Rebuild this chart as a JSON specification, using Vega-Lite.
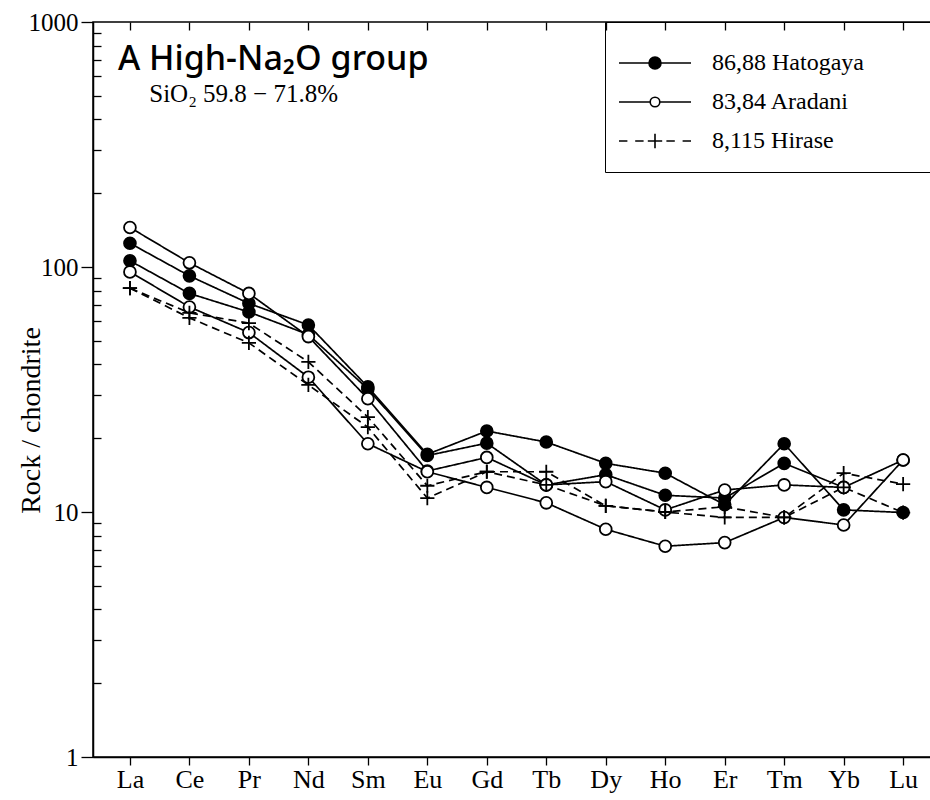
{
  "$schema": "https://vega.github.io/schema/vega-lite/v6.json",
  "width": 838,
  "height": 735,
  "autosize": {"type": "none"},
  "padding": {"left": 93, "top": 22, "right": 0, "bottom": 43},
  "background": "white",
  "config": {
    "view": {"stroke": "black", "strokeWidth": 1.5},
    "axis": {"grid": false, "domainColor": "black", "tickColor": "black", "labelColor": "black", "titleColor": "black", "tickWidth": 1.3, "domainWidth": 1.5}
  },
  "title": {
    "text": "A High-Na₂O group",
    "subtitle": "\u200b\u00a0\u00a0\u00a0\u00a0\u00a0SiO₂ 59.8 − 71.8%",
    "anchor": "start",
    "frame": "group",
    "orient": "top",
    "font": "Noto Sans",
    "fontSize": 34,
    "fontWeight": 500,
    "color": "black",
    "subtitleFont": "Liberation Serif",
    "subtitleFontSize": 25,
    "subtitleColor": "black",
    "subtitlePadding": 5,
    "dx": 25,
    "dy": 101
  },
  "data": {
    "values": [
      {"s": "86", "g": "86,88 Hatogaya", "el": "La", "v": 125},
      {"s": "86", "g": "86,88 Hatogaya", "el": "Ce", "v": 92},
      {"s": "86", "g": "86,88 Hatogaya", "el": "Pr", "v": 71},
      {"s": "86", "g": "86,88 Hatogaya", "el": "Nd", "v": 58},
      {"s": "86", "g": "86,88 Hatogaya", "el": "Sm", "v": 32.4},
      {"s": "86", "g": "86,88 Hatogaya", "el": "Eu", "v": 17.2},
      {"s": "86", "g": "86,88 Hatogaya", "el": "Gd", "v": 21.4},
      {"s": "86", "g": "86,88 Hatogaya", "el": "Tb", "v": 19.3},
      {"s": "86", "g": "86,88 Hatogaya", "el": "Dy", "v": 15.8},
      {"s": "86", "g": "86,88 Hatogaya", "el": "Ho", "v": 14.4},
      {"s": "86", "g": "86,88 Hatogaya", "el": "Er", "v": 10.7},
      {"s": "86", "g": "86,88 Hatogaya", "el": "Tm", "v": 19.0},
      {"s": "86", "g": "86,88 Hatogaya", "el": "Yb", "v": 10.2},
      {"s": "86", "g": "86,88 Hatogaya", "el": "Lu", "v": 9.95},
      {"s": "88", "g": "86,88 Hatogaya", "el": "La", "v": 106},
      {"s": "88", "g": "86,88 Hatogaya", "el": "Ce", "v": 78},
      {"s": "88", "g": "86,88 Hatogaya", "el": "Pr", "v": 65.5},
      {"s": "88", "g": "86,88 Hatogaya", "el": "Nd", "v": 53},
      {"s": "88", "g": "86,88 Hatogaya", "el": "Sm", "v": 31.8},
      {"s": "88", "g": "86,88 Hatogaya", "el": "Eu", "v": 17.0},
      {"s": "88", "g": "86,88 Hatogaya", "el": "Gd", "v": 19.1},
      {"s": "88", "g": "86,88 Hatogaya", "el": "Tb", "v": 12.9},
      {"s": "88", "g": "86,88 Hatogaya", "el": "Dy", "v": 14.2},
      {"s": "88", "g": "86,88 Hatogaya", "el": "Ho", "v": 11.7},
      {"s": "88", "g": "86,88 Hatogaya", "el": "Er", "v": 11.4},
      {"s": "88", "g": "86,88 Hatogaya", "el": "Tm", "v": 15.8},
      {"s": "88", "g": "86,88 Hatogaya", "el": "Yb", "v": 12.6},
      {"s": "83", "g": "83,84 Aradani", "el": "La", "v": 145},
      {"s": "83", "g": "83,84 Aradani", "el": "Ce", "v": 104},
      {"s": "83", "g": "83,84 Aradani", "el": "Pr", "v": 78},
      {"s": "83", "g": "83,84 Aradani", "el": "Nd", "v": 52},
      {"s": "83", "g": "83,84 Aradani", "el": "Sm", "v": 29},
      {"s": "83", "g": "83,84 Aradani", "el": "Eu", "v": 14.7},
      {"s": "83", "g": "83,84 Aradani", "el": "Gd", "v": 16.7},
      {"s": "83", "g": "83,84 Aradani", "el": "Tb", "v": 12.9},
      {"s": "83", "g": "83,84 Aradani", "el": "Dy", "v": 13.3},
      {"s": "83", "g": "83,84 Aradani", "el": "Ho", "v": 10.2},
      {"s": "83", "g": "83,84 Aradani", "el": "Er", "v": 12.3},
      {"s": "83", "g": "83,84 Aradani", "el": "Tm", "v": 12.9},
      {"s": "83", "g": "83,84 Aradani", "el": "Yb", "v": 12.6},
      {"s": "83", "g": "83,84 Aradani", "el": "Lu", "v": 16.3},
      {"s": "84", "g": "83,84 Aradani", "el": "La", "v": 95.5},
      {"s": "84", "g": "83,84 Aradani", "el": "Ce", "v": 68.7},
      {"s": "84", "g": "83,84 Aradani", "el": "Pr", "v": 54},
      {"s": "84", "g": "83,84 Aradani", "el": "Nd", "v": 35.5},
      {"s": "84", "g": "83,84 Aradani", "el": "Sm", "v": 19},
      {"s": "84", "g": "83,84 Aradani", "el": "Eu", "v": 14.6},
      {"s": "84", "g": "83,84 Aradani", "el": "Gd", "v": 12.6},
      {"s": "84", "g": "83,84 Aradani", "el": "Tb", "v": 10.9},
      {"s": "84", "g": "83,84 Aradani", "el": "Dy", "v": 8.5},
      {"s": "84", "g": "83,84 Aradani", "el": "Ho", "v": 7.25},
      {"s": "84", "g": "83,84 Aradani", "el": "Er", "v": 7.5},
      {"s": "84", "g": "83,84 Aradani", "el": "Tm", "v": 9.5},
      {"s": "84", "g": "83,84 Aradani", "el": "Yb", "v": 8.85},
      {"s": "84", "g": "83,84 Aradani", "el": "Lu", "v": 16.3},
      {"s": "8", "g": "8,115 Hirase", "el": "La", "v": 82},
      {"s": "8", "g": "8,115 Hirase", "el": "Ce", "v": 65},
      {"s": "8", "g": "8,115 Hirase", "el": "Pr", "v": 59},
      {"s": "8", "g": "8,115 Hirase", "el": "Nd", "v": 41},
      {"s": "8", "g": "8,115 Hirase", "el": "Sm", "v": 24.4},
      {"s": "8", "g": "8,115 Hirase", "el": "Eu", "v": 12.8},
      {"s": "8", "g": "8,115 Hirase", "el": "Gd", "v": 14.6},
      {"s": "8", "g": "8,115 Hirase", "el": "Tb", "v": 14.6},
      {"s": "8", "g": "8,115 Hirase", "el": "Dy", "v": 10.6},
      {"s": "8", "g": "8,115 Hirase", "el": "Ho", "v": 10},
      {"s": "8", "g": "8,115 Hirase", "el": "Er", "v": 10.5},
      {"s": "8", "g": "8,115 Hirase", "el": "Tm", "v": 9.5},
      {"s": "8", "g": "8,115 Hirase", "el": "Yb", "v": 14.4},
      {"s": "8", "g": "8,115 Hirase", "el": "Lu", "v": 13.0},
      {"s": "115", "g": "8,115 Hirase", "el": "La", "v": 82},
      {"s": "115", "g": "8,115 Hirase", "el": "Ce", "v": 62},
      {"s": "115", "g": "8,115 Hirase", "el": "Pr", "v": 49},
      {"s": "115", "g": "8,115 Hirase", "el": "Nd", "v": 33},
      {"s": "115", "g": "8,115 Hirase", "el": "Sm", "v": 22.2},
      {"s": "115", "g": "8,115 Hirase", "el": "Eu", "v": 11.4},
      {"s": "115", "g": "8,115 Hirase", "el": "Gd", "v": 14.6},
      {"s": "115", "g": "8,115 Hirase", "el": "Tb", "v": 12.9},
      {"s": "115", "g": "8,115 Hirase", "el": "Dy", "v": 10.6},
      {"s": "115", "g": "8,115 Hirase", "el": "Ho", "v": 10},
      {"s": "115", "g": "8,115 Hirase", "el": "Er", "v": 9.5},
      {"s": "115", "g": "8,115 Hirase", "el": "Tm", "v": 9.5},
      {"s": "115", "g": "8,115 Hirase", "el": "Yb", "v": 12.6},
      {"s": "115", "g": "8,115 Hirase", "el": "Lu", "v": 9.95}
    ]
  },
  "resolve": {"axis": {"x": "independent", "y": "independent"}},
  "layer": [
    {
      "mark": {"type": "line", "color": "black", "strokeWidth": 1.7},
      "encoding": {
        "x": {
          "field": "el", "type": "ordinal",
          "sort": ["La", "Ce", "Pr", "Nd", "Sm", "Eu", "Gd", "Tb", "Dy", "Ho", "Er", "Tm", "Yb", "Lu"],
          "scale": {"type": "point", "padding": 0.545, "align": 0.57},
          "axis": {"orient": "bottom", "title": null, "labelAngle": 0, "labelFont": "Liberation Serif", "labelFontSize": 26, "tickSize": 8, "labelPadding": 1}
        },
        "y": {
          "field": "v", "type": "quantitative",
          "scale": {"type": "log", "domain": [1, 1000], "nice": false},
          "axis": {"orient": "left", "values": [1, 10, 100, 1000], "format": "d", "labelFont": "Liberation Serif", "labelFontSize": 25, "tickSize": 12, "labelPadding": 3,
            "title": "Rock / chondrite", "titleFont": "Liberation Serif", "titleFontSize": 28, "titleFontWeight": "normal", "titleX": -62, "titleY": 398, "titleBaseline": "middle", "titleAngle": -90}
        },
        "detail": {"field": "s"},
        "strokeDash": {"condition": {"test": "datum.g === '8,115 Hirase'", "value": [8, 5]}, "value": [1, 0]}
      }
    },
    {
      "mark": {"type": "point", "stroke": "black", "strokeWidth": 1.8, "opacity": 1, "size": 140},
      "encoding": {
        "x": {
          "field": "el", "type": "ordinal",
          "sort": ["La", "Ce", "Pr", "Nd", "Sm", "Eu", "Gd", "Tb", "Dy", "Ho", "Er", "Tm", "Yb", "Lu"],
          "axis": {"orient": "top", "title": null, "labels": false, "domain": false, "tickSize": -8}
        },
        "y": {
          "field": "v", "type": "quantitative",
          "axis": {"orient": "left", "values": [2, 3, 4, 5, 6, 7, 8, 9, 20, 30, 40, 50, 60, 70, 80, 90, 200, 300, 400, 500, 600, 700, 800, 900], "labels": false, "domain": false, "tickSize": -8, "title": null}
        },
        "shape": {"condition": {"test": "datum.g === '8,115 Hirase'", "value": "M-1.2,0H1.2M0,-1.2V1.2"}, "value": "circle"},
        "fill": {"condition": [{"test": "datum.g === '86,88 Hatogaya'", "value": "black"}, {"test": "datum.g === '83,84 Aradani'", "value": "white"}], "value": "transparent"}
      }
    },
    {
      "mark": {"type": "point", "opacity": 0, "size": 144},
      "encoding": {
        "x": {
          "field": "el", "type": "ordinal",
          "sort": ["La", "Ce", "Pr", "Nd", "Sm", "Eu", "Gd", "Tb", "Dy", "Ho", "Er", "Tm", "Yb", "Lu"],
          "axis": null
        },
        "y": {"field": "v", "type": "quantitative", "axis": null},
        "shape": {"field": "g", "type": "nominal",
          "scale": {"domain": ["86,88 Hatogaya", "83,84 Aradani", "8,115 Hirase"],
            "range": ["M-6,0H6M1,0A1,1 0 1,1 -1,0A1,1 0 1,1 1,0Z", "M-6,0H-0.8M0.8,0H6M0.8,0A0.8,0.8 0 1,1 -0.8,0A0.8,0.8 0 1,1 0.8,0Z", "M-6,0H-4.6M-3.3,0H-1.9M-1.2,0H1.2M0,-1.2V1.2M1.9,0H3.3M4.6,0H6"]},
          "legend": {
            "orient": "none", "legendX": 512, "legendY": 0,
            "title": " ", "titleFontSize": 10, "titlePadding": 0,
            "padding": 19, "strokeColor": "black", "fillColor": null,
            "labelFont": "Liberation Serif", "labelFontSize": 24, "labelColor": "black", "labelLimit": 400,
            "symbolSize": 144, "symbolOffset": 19, "labelOffset": 45, "rowPadding": 15,
            "labelExpr": "datum.label + '\u00a0\u00a0\u00a0\u00a0\u00a0\u00a0\u00a0\u00a0\u200b'",
            "encoding": {
              "symbols": {
                "fill": {"condition": [{"test": "datum.value === '86,88 Hatogaya'", "value": "black"}, {"test": "datum.value === '83,84 Aradani'", "value": "white"}], "value": "transparent"},
                "stroke": {"value": "black"},
                "strokeWidth": {"value": 1.6},
                "size": {"value": 144},
                "opacity": {"value": 1}
              }
            }
          }
        }
      }
    }
  ]
}
